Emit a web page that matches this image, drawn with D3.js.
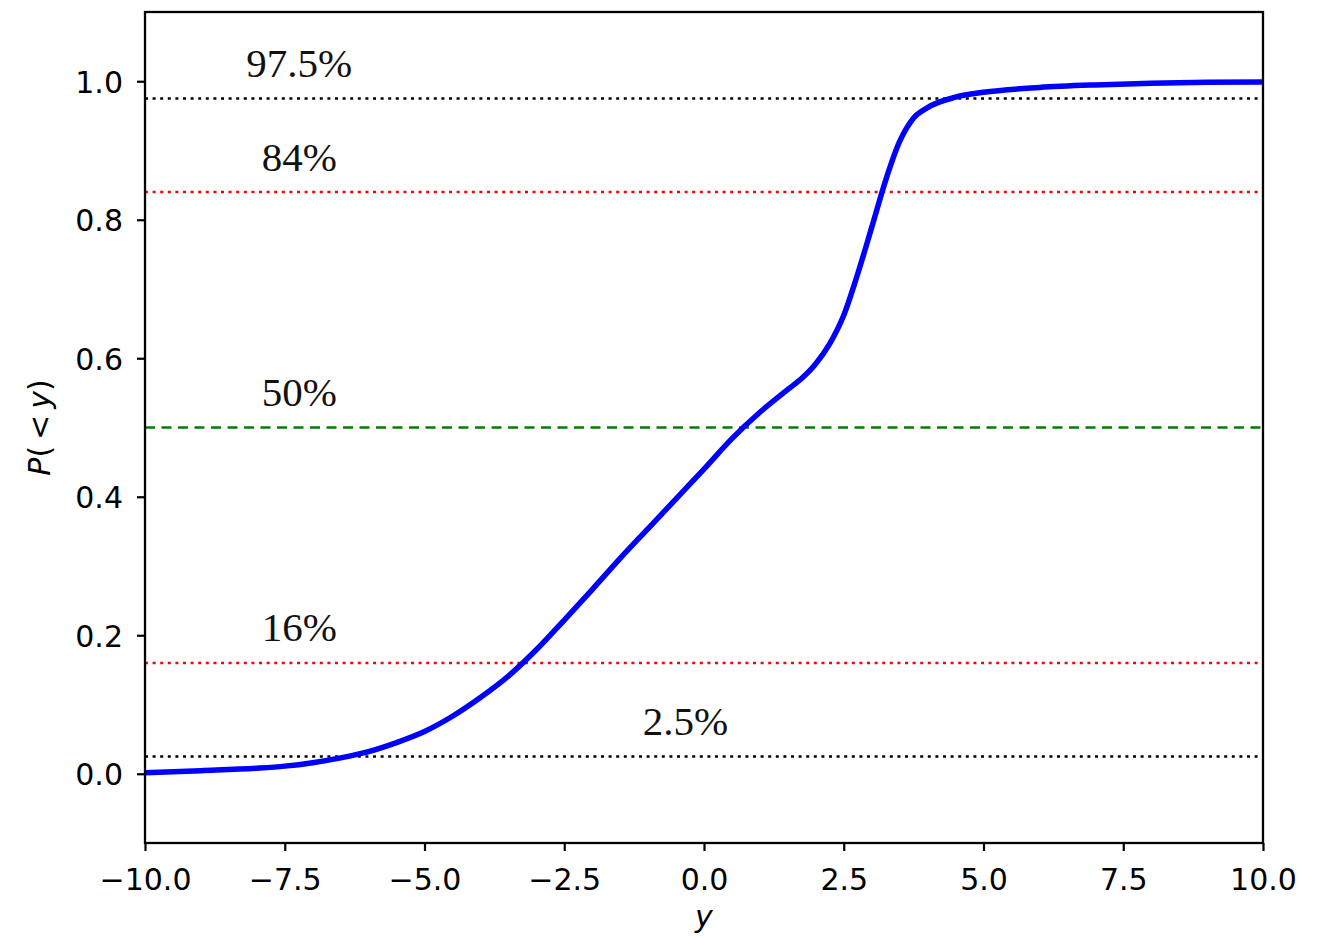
<!DOCTYPE html>
<html>
<head>
<meta charset="utf-8">
<script src="https://cdn.jsdelivr.net/npm/d3@7"></script>
<style>
  html, body { margin: 0; padding: 0; background: #fff; }
  svg { display: block; }
</style>
</head>
<body>
<svg id="chart" width="1331" height="939"></svg>
<script>
// Cumulative probability curve P(<y)
const curveX = [-10, -9, -8, -7.5, -7, -6.5, -6, -5.5, -5, -4.5, -4, -3.5, -3, -2.5, -2, -1.5, -1, -0.5, 0, 0.5, 1, 1.5, 1.75, 2, 2.25, 2.5, 2.75, 3, 3.25, 3.5, 3.75, 4, 4.5, 5, 6, 7, 8, 9, 10];
const curveP = [0.0015, 0.0045, 0.008, 0.011, 0.016, 0.023, 0.032, 0.045, 0.061, 0.083, 0.110, 0.141, 0.179, 0.222, 0.266, 0.311, 0.354, 0.397, 0.440, 0.484, 0.522, 0.555, 0.571, 0.592, 0.621, 0.662, 0.722, 0.789, 0.857, 0.913, 0.947, 0.962, 0.977, 0.984, 0.991, 0.9947, 0.997, 0.9985, 0.999];

// Reference percentile levels
const levelValues = [0.975, 0.84, 0.5, 0.16, 0.025];
const levelLabels = ["97.5%", "84%", "50%", "16%", "2.5%"];
const levelColors = ["black", "red", "green", "red", "black"];
const levelStyles = ["dotted", "dotted", "dashed", "dotted", "dotted"];
const levelLabelX = [-7.24, -7.24, -7.24, -7.24, -0.33];

// Axis ticks
const xTicks = [-10, -7.5, -5, -2.5, 0, 2.5, 5, 7.5, 10];
const yTicks = [0, 0.2, 0.4, 0.6, 0.8, 1.0];

const svg = d3.select("#chart");
const margin = { left: 145, right: 1331 - 1263, top: 12, bottom: 939 - 843 };
const W = 1331 - margin.left - margin.right;
const H = 939 - margin.top - margin.bottom;

const x = d3.scaleLinear().domain([-10, 10]).range([0, W]);
const y = d3.scaleLinear().domain([-0.1, 1.1]).range([H, 0]);

const g = svg.append("g").attr("transform", `translate(${margin.left},${margin.top})`);

const fmt = v => d3.format(".1f")(v).replace("-", "\u2212");

// Percentile guide lines
const dashFor = s => s === "dashed" ? "10,6.5" : "3,4.6";
g.selectAll("line.level")
  .data(levelValues)
  .join("line")
  .attr("class", "level")
  .attr("x1", x(-10)).attr("x2", x(10))
  .attr("y1", d => y(d)).attr("y2", d => y(d))
  .attr("stroke", (d, i) => levelColors[i])
  .attr("stroke-width", 2.6)
  .attr("stroke-dasharray", (d, i) => dashFor(levelStyles[i]));

// Percentile labels
g.selectAll("text.level")
  .data(levelValues)
  .join("text")
  .attr("class", "level")
  .attr("x", (d, i) => x(levelLabelX[i]))
  .attr("y", d => y(d + 0.031))
  .attr("text-anchor", "middle")
  .attr("font-family", "Liberation Serif, Times New Roman, serif")
  .attr("font-size", 41)
  .attr("fill", "#111")
  .text((d, i) => levelLabels[i]);

// CDF curve
const line = d3.line()
  .x(d => x(d[0]))
  .y(d => y(d[1]))
  .curve(d3.curveMonotoneX);
g.append("path")
  .datum(d3.zip(curveX, curveP))
  .attr("d", line)
  .attr("fill", "none")
  .attr("stroke", "blue")
  .attr("stroke-width", 5.5);

// Axes
const xAxis = d3.axisBottom(x).tickValues(xTicks).tickFormat(fmt).tickSize(8).tickPadding(11);
const yAxis = d3.axisLeft(y).tickValues(yTicks).tickFormat(fmt).tickSize(8).tickPadding(14);

const gx = g.append("g").attr("transform", `translate(0,${H})`).call(xAxis);
const gy = g.append("g").call(yAxis);
[gx, gy].forEach(a => {
  a.select(".domain").remove();
  a.selectAll(".tick line").attr("stroke", "black").attr("stroke-width", 2.2);
  a.selectAll(".tick text")
    .attr("font-family", "DejaVu Sans, sans-serif")
    .attr("font-size", 30)
    .attr("fill", "black");
});
gx.selectAll(".tick text").attr("dy", "0.92em");
gy.selectAll(".tick text").attr("dy", "0.36em");

// Frame
g.append("rect")
  .attr("x", 0).attr("y", 0).attr("width", W).attr("height", H)
  .attr("fill", "none").attr("stroke", "black").attr("stroke-width", 2.3);

// Axis titles
svg.append("text")
  .attr("x", margin.left + x(0))
  .attr("y", 927)
  .attr("text-anchor", "middle")
  .attr("font-family", "DejaVu Sans, sans-serif")
  .attr("font-size", 30)
  .attr("font-style", "italic")
  .text("y");

const yl = svg.append("text")
  .attr("transform", `translate(50,${margin.top + y(0.5)}) rotate(-90)`)
  .attr("text-anchor", "middle")
  .attr("font-family", "DejaVu Sans, sans-serif")
  .attr("font-size", 30);
yl.append("tspan").attr("font-style", "italic").text("P");
yl.append("tspan").text("(\u2009<\u2009");
yl.append("tspan").attr("font-style", "italic").text("y");
yl.append("tspan").text(")");
</script>
</body>
</html>
